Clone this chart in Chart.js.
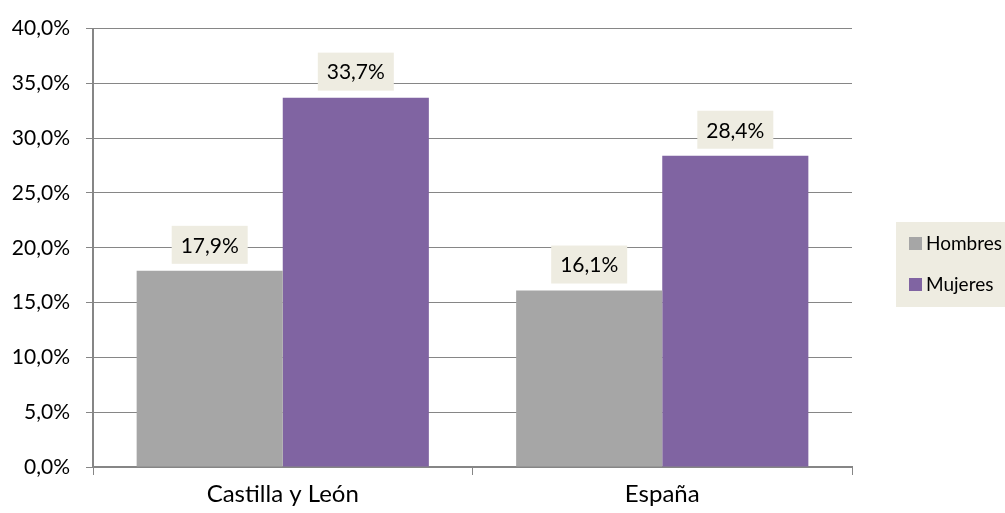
<!DOCTYPE html>
<html>
<head>
<meta charset="utf-8">
<script src="https://cdn.jsdelivr.net/npm/chart.js@4.4.0/dist/chart.umd.min.js"></script>
<style>
  html, body { margin: 0; padding: 0; background: #fff; }
  #wrap { width: 1005px; height: 513px; }
</style>
</head>
<body>
<div id="wrap"><canvas id="chart" width="1005" height="513"></canvas></div>
<script>
// data
const categories = ['Castilla y León', 'España'];
const hombres = [17.9, 16.1];
const mujeres = [33.7, 28.4];
const yTicks = [0, 5, 10, 15, 20, 25, 30, 35, 40];

const FONT = 'Lato, "Open Sans", sans-serif';
const GRID = '#868686';
const fmt = v => v.toFixed(1).replace('.', ',') + '%';

// value labels on beige boxes above each bar
const barLabels = {
  id: 'barLabels',
  afterDatasetsDraw(chart) {
    const ctx = chart.ctx;
    ctx.save();
    ctx.font = '21px ' + FONT;
    ctx.textAlign = 'center';
    ctx.textBaseline = 'middle';
    chart.data.datasets.forEach((ds, i) => {
      chart.getDatasetMeta(i).data.forEach((bar, j) => {
        const w = 76, h = 38;
        const x = bar.x - w / 2, y = bar.y - 7 - h;
        ctx.fillStyle = '#EEECE1';
        ctx.fillRect(x, y, w, h);
        ctx.fillStyle = '#000';
        ctx.fillText(fmt(ds.data[j]), bar.x, y + h / 2 + 1);
      });
    });
    ctx.restore();
  }
};

// legend box on the right
const sideLegend = {
  id: 'sideLegend',
  afterDraw(chart) {
    const ctx = chart.ctx;
    ctx.save();
    ctx.fillStyle = '#EEECE1';
    ctx.fillRect(896, 222, 109, 85);
    ctx.font = '19px ' + FONT;
    ctx.textBaseline = 'middle';
    ctx.textAlign = 'left';
    chart.data.datasets.forEach((ds, i) => {
      const cy = 243 + i * 41;
      ctx.fillStyle = ds.backgroundColor;
      ctx.fillRect(909, cy - 6, 13, 13);
      ctx.fillStyle = '#000';
      ctx.fillText(ds.label, 926, cy + 1);
    });
    ctx.restore();
  }
};

new Chart(document.getElementById('chart'), {
  type: 'bar',
  data: {
    labels: categories,
    datasets: [
      { label: 'Hombres', data: hombres, backgroundColor: '#A6A6A6' },
      { label: 'Mujeres', data: mujeres, backgroundColor: '#8064A2' }
    ]
  },
  options: {
    responsive: false,
    animation: false,
    events: [],
    layout: { padding: { left: 0, right: 153, top: 28, bottom: 0 } },
    datasets: { bar: { categoryPercentage: 0.77, barPercentage: 1.0 } },
    plugins: {
      legend: { display: false },
      tooltip: { enabled: false }
    },
    scales: {
      x: {
        afterFit: s => { s.height = 46; },
        grid: { drawOnChartArea: false, drawTicks: true, tickLength: 8, color: GRID, lineWidth: 1 },
        border: { color: GRID, width: 2 },
        ticks: { color: '#000', font: { family: FONT, size: 24 }, padding: 5 }
      },
      y: {
        min: 0,
        max: 40,
        afterFit: s => { s.width = 93; },
        afterBuildTicks: s => { s.ticks = yTicks.map(v => ({ value: v })); },
        grid: { color: GRID, lineWidth: 1, tickLength: 7 },
        border: { color: GRID, width: 2 },
        ticks: {
          color: '#000',
          font: { family: FONT, size: 21 },
          padding: 16,
          callback: v => fmt(v)
        }
      }
    }
  },
  plugins: [barLabels, sideLegend]
});
</script>
</body>
</html>
